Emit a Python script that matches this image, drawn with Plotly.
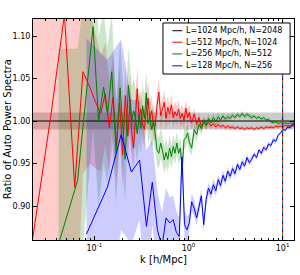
import math
import plotly.graph_objects as go

# ---------------- data ----------------
# shared k grids (h/Mpc)
MID_K = [0.250, 0.261, 0.273, 0.285, 0.298, 0.312, 0.326, 0.340,
         0.356, 0.372, 0.388, 0.406, 0.424, 0.443, 0.463, 0.484,
         0.506, 0.528, 0.552, 0.577, 0.603, 0.630, 0.658, 0.688,
         0.719, 0.751, 0.785, 0.820, 0.857, 0.896, 0.936, 0.978]
HI_K = [1.02, 1.08, 1.15, 1.22, 1.29, 1.37, 1.45, 1.54, 1.63,
        1.73, 1.84, 1.95, 2.07, 2.19, 2.32, 2.46, 2.61, 2.77,
        2.94, 3.12, 3.31, 3.51, 3.72, 3.94, 4.18, 4.43, 4.70,
        4.98, 5.28, 5.60, 5.94, 6.30, 6.68, 7.08, 7.51, 7.96,
        8.44, 8.95, 9.49, 10.06, 10.67, 11.31, 11.99, 12.71, 13.48]

# L=1024 Mpc/h, N=2048 (reference run)
BLACK_K = [0.01, 20.0]
BLACK_R = [1.0, 1.0]
BLACK_E = [0.01, 0.01]

# L=512 Mpc/h, N=1024
RED_LOW_K = [0.020625, 0.034375, 0.048125, 0.061875, 0.075625, 0.089375,
             0.103125, 0.116875, 0.130625, 0.144375, 0.158125, 0.171875,
             0.185625, 0.199375, 0.213125, 0.226875, 0.240625]
RED_LOW_R = [0.839, 1.005, 1.125, 0.922, 1.058, 1.040, 1.022, 1.009, 1.032,
             0.992, 1.028, 0.972, 1.022, 0.960, 1.030, 0.982, 1.026]
RED_LOW_E = [0.35, 0.32, 0.30, 0.21, 0.12, 0.09, 0.078, 0.068, 0.060,
             0.054, 0.049, 0.045, 0.041, 0.038, 0.035, 0.033, 0.031]
RED_MID_R = [0.985, 0.968, 1.010, 1.038, 1.004, 1.014, 0.997, 0.990,
             1.012, 1.027, 1.003, 1.012, 0.996, 0.994, 1.018, 1.034,
             1.006, 1.014, 1.022, 1.003, 1.016, 1.008, 1.019, 1.004,
             1.011, 1.006, 1.014, 1.003, 1.009, 1.001, 1.015, 1.004]
RED_MID_E = [0.028, 0.027, 0.026, 0.025, 0.024, 0.023, 0.022, 0.021,
             0.020, 0.019, 0.019, 0.018, 0.017, 0.017, 0.016, 0.016,
             0.015, 0.015, 0.014, 0.014, 0.013, 0.013, 0.013, 0.012,
             0.012, 0.012, 0.011, 0.011, 0.011, 0.010, 0.010, 0.010]
RED_HI_R = [1.010, 0.998, 1.008, 0.996, 1.004, 0.994, 0.999, 0.995, 0.998,
            0.994, 0.997, 0.993, 0.996, 0.993, 0.995, 0.992, 0.994, 0.992,
            0.993, 0.991, 0.993, 0.991, 0.992, 0.990, 0.992, 0.991, 0.992,
            0.990, 0.992, 0.991, 0.993, 0.991, 0.993, 0.992, 0.993, 0.992,
            0.994, 0.993, 0.994, 0.993, 0.995, 0.994, 0.995, 0.994, 0.995]
RED_HI_E = [0.009, 0.008, 0.007, 0.007, 0.006, 0.006, 0.005, 0.005, 0.005,
            0.004, 0.004, 0.004, 0.004, 0.003, 0.003, 0.003, 0.003, 0.003,
            0.003, 0.002, 0.002, 0.002, 0.002, 0.002, 0.002, 0.002, 0.002,
            0.002, 0.002, 0.002, 0.002, 0.002, 0.002, 0.002, 0.002, 0.002,
            0.002, 0.002, 0.002, 0.002, 0.002, 0.002, 0.002, 0.002, 0.002]

# L=256 Mpc/h, N=512
GREEN_LOW_K = [0.0416, 0.0663, 0.0969, 0.1109, 0.1253, 0.1381, 0.1531,
               0.1702, 0.1877, 0.2121, 0.2299]
GREEN_LOW_R = [0.855, 0.930, 1.111, 1.000, 1.040, 1.008, 1.058, 0.962,
               1.039, 0.955, 1.042]
GREEN_LOW_E = [0.23, 0.155, 0.12, 0.10, 0.09, 0.08, 0.07, 0.06, 0.055,
               0.05, 0.045]
GREEN_MID_R = [1.000, 1.012, 1.004, 0.985, 1.006, 0.992, 1.018, 1.003,
               1.033, 0.997, 1.004, 0.990, 0.999, 0.985, 0.966, 0.962,
               0.974, 0.966, 0.954, 0.963, 0.955, 0.968, 0.958, 0.970,
               0.962, 0.974, 0.962, 0.968, 0.942, 0.978, 0.980, 0.986]
GREEN_MID_E = [0.040, 0.038, 0.036, 0.034, 0.032, 0.030, 0.028, 0.027,
               0.026, 0.024, 0.023, 0.022, 0.021, 0.020, 0.019, 0.018,
               0.018, 0.017, 0.016, 0.016, 0.015, 0.015, 0.014, 0.014,
               0.013, 0.013, 0.013, 0.012, 0.012, 0.012, 0.011, 0.011]
GREEN_HI_R = [0.975, 0.968, 0.990, 0.984, 0.996, 0.991, 1.000, 0.995, 1.003,
              0.998, 1.004, 0.999, 1.005, 1.001, 1.006, 1.002, 1.005, 1.003,
              1.007, 1.004, 1.008, 1.005, 1.009, 1.005, 1.008, 1.006, 1.004,
              1.006, 1.003, 1.005, 1.002, 1.004, 1.001, 1.002, 0.999, 0.998,
              0.999, 0.997, 0.998, 0.997, 0.998, 0.997, 0.998, 0.997, 0.998]
GREEN_HI_E = [0.010, 0.009, 0.008, 0.008, 0.007, 0.007, 0.006, 0.006, 0.006,
              0.005, 0.005, 0.005, 0.005, 0.004, 0.004, 0.004, 0.004, 0.004,
              0.003, 0.003, 0.003, 0.003, 0.003, 0.003, 0.003, 0.003, 0.003,
              0.002, 0.002, 0.002, 0.002, 0.002, 0.002, 0.002, 0.002, 0.002,
              0.002, 0.002, 0.002, 0.002, 0.002, 0.002, 0.002, 0.002, 0.002]

# L=128 Mpc/h, N=256
BLUE_LOW_K = [0.0825, 0.1375, 0.1925, 0.2475, 0.3025, 0.3575, 0.4125,
              0.4675, 0.5225, 0.5775, 0.6325, 0.6875, 0.7425, 0.7975,
              0.8525, 0.9075, 0.9625]
BLUE_LOW_R = [0.867, 0.922, 0.984, 0.940, 0.954, 0.876, 0.928, 0.872,
              0.852, 0.886, 0.880, 0.884, 0.869, 0.864, 0.958, 0.878, 0.872]
BLUE_LOW_E = [0.23, 0.15, 0.112, 0.085, 0.07, 0.09, 0.05, 0.045, 0.04,
              0.035, 0.03, 0.028, 0.025, 0.022, 0.02, 0.018, 0.016]
BLUE_HI_R = [0.880, 0.905, 0.897, 0.886, 0.900, 0.912, 0.878, 0.908, 0.921,
             0.914, 0.925, 0.918, 0.931, 0.924, 0.936, 0.929, 0.941, 0.935,
             0.944, 0.938, 0.949, 0.943, 0.952, 0.947, 0.957, 0.951, 0.955,
             0.961, 0.957, 0.966, 0.962, 0.969, 0.966, 0.973, 0.971, 0.978,
             0.976, 0.983, 0.986, 0.990, 0.989, 0.993, 0.992, 0.996, 0.997]
BLUE_HI_E = [0.011, 0.010, 0.010, 0.009, 0.009, 0.008, 0.008, 0.008, 0.007,
             0.007, 0.007, 0.006, 0.006, 0.006, 0.006, 0.005, 0.005, 0.005,
             0.005, 0.005, 0.004, 0.004, 0.004, 0.004, 0.004, 0.004, 0.004,
             0.003, 0.003, 0.003, 0.003, 0.003, 0.003, 0.003, 0.003, 0.003,
             0.003, 0.002, 0.002, 0.002, 0.002, 0.002, 0.002, 0.002, 0.002]

K_LINE = 10.0   # vertical dashed marker
LABELS = ["L=1024 Mpc/h, N=2048", "L=512 Mpc/h, N=1024",
          "L=256 Mpc/h, N=512", "L=128 Mpc/h, N=256"]
X_TICKS = [0.1, 1.0, 10.0]
X_TICKTEXT = ["10<sup>-1</sup>", "10<sup>0</sup>", "10<sup>1</sup>"]
X_MINOR = [0.03, 0.04, 0.05, 0.06, 0.07, 0.08, 0.09,
           0.2, 0.3, 0.4, 0.5, 0.6, 0.7, 0.8, 0.9,
           2, 3, 4, 5, 6, 7, 8, 9]
Y_TICKS = [0.90, 0.95, 1.00, 1.05, 1.10]
Y_TICKTEXT = ["0.90", "0.95", "1.00", "1.05", "1.10"]

# ---------------- assemble ----------------
series = [
    ("#000000", "rgba(0,0,0,0.2)", BLACK_K, BLACK_R, BLACK_E),
    ("#ff0000", "rgba(255,0,0,0.2)", RED_LOW_K + MID_K + HI_K,
     RED_LOW_R + RED_MID_R + RED_HI_R, RED_LOW_E + RED_MID_E + RED_HI_E),
    ("#008000", "rgba(0,128,0,0.2)", GREEN_LOW_K + MID_K + HI_K,
     GREEN_LOW_R + GREEN_MID_R + GREEN_HI_R, GREEN_LOW_E + GREEN_MID_E + GREEN_HI_E),
    ("#0000ff", "rgba(0,0,255,0.2)", BLUE_LOW_K + HI_K,
     BLUE_LOW_R + BLUE_HI_R, BLUE_LOW_E + BLUE_HI_E),
]

FONT = "DejaVu Sans"
fig = go.Figure()

for color, fill, k, r, e in series:
    up = [a + b for a, b in zip(r, e)]
    lo = [a - b for a, b in zip(r, e)]
    fig.add_trace(go.Scatter(x=k + k[::-1], y=up + lo[::-1], mode="lines",
                             fill="toself", fillcolor=fill,
                             line=dict(width=0), hoverinfo="skip",
                             showlegend=False))

for (color, fill, k, r, e), name in zip(series, LABELS):
    fig.add_trace(go.Scatter(x=k, y=r, mode="lines", name=name,
                             line=dict(color=color, width=1),
                             showlegend=False))

# multicoloured dashed vertical marker
Y0, Y1 = 0.86, 1.12
PLOT_H = 221
for i, color in enumerate(["#000000", "#ff0000", "#008000", "#0000ff"]):
    off = i * 2.0 * (Y1 - Y0) / PLOT_H
    fig.add_trace(go.Scatter(x=[K_LINE, K_LINE], y=[0.70 - off, 1.2],
                             mode="lines", showlegend=False, hoverinfo="skip",
                             line=dict(color=color, width=1, dash="2px,6px")))

# manual legend (matplotlib-style)
shapes = [dict(type="rect", xref="paper", yref="paper",
               x0=0.498, x1=0.985, y0=0.751, y1=0.982,
               line=dict(color="black", width=1), fillcolor="white",
               layer="above")]
annotations = []
rows_y = [0.947, 0.895, 0.842, 0.788]
for (color, *_), name, ry in zip(series, LABELS, rows_y):
    shapes.append(dict(type="line", xref="paper", yref="paper",
                       x0=0.534, x1=0.572, y0=ry, y1=ry,
                       line=dict(color=color, width=1), layer="above"))
    annotations.append(dict(xref="paper", yref="paper", x=0.582, y=ry,
                            xanchor="left", yanchor="middle", text=name,
                            showarrow=False, borderpad=0,
                            font=dict(family=FONT, size=8, color="black")))

# y-axis title placed like matplotlib's
annotations.append(dict(xref="paper", yref="paper", x=-0.097, y=0.5,
                        xanchor="center", yanchor="middle", textangle=-90,
                        text="Ratio of Auto Power Spectra", showarrow=False,
                        font=dict(family=FONT, size=10, color="black")))

axis_common = dict(showgrid=False, zeroline=False, showline=True,
                   linecolor="black", linewidth=1, mirror="ticks",
                   ticks="inside", ticklen=4, tickwidth=1, tickcolor="black",
                   automargin=False,
                   tickfont=dict(family=FONT, size=8, color="black"))

fig.update_layout(
    width=300, height=275,
    margin=dict(l=33, r=6, t=19, b=35),
    paper_bgcolor="white", plot_bgcolor="white",
    shapes=shapes, annotations=annotations,
    xaxis=dict(type="log", range=[math.log10(0.0223), math.log10(13.2)],
               tickvals=X_TICKS, ticktext=X_TICKTEXT,
               minor=dict(tickvals=X_MINOR, ticks="inside", ticklen=2,
                          tickcolor="black", showgrid=False),
               title=dict(text="k [h/Mpc]", font=dict(family=FONT, size=10,
                                                       color="black"),
                          standoff=4),
               **axis_common),
    yaxis=dict(range=[Y0, Y1], tickvals=Y_TICKS, ticktext=Y_TICKTEXT,
               **axis_common),
)

fig.write_html("out.html",
               config={"displayModeBar": False},
               post_script="document.body.style.margin='0';"
                           "document.body.style.overflow='hidden';")
